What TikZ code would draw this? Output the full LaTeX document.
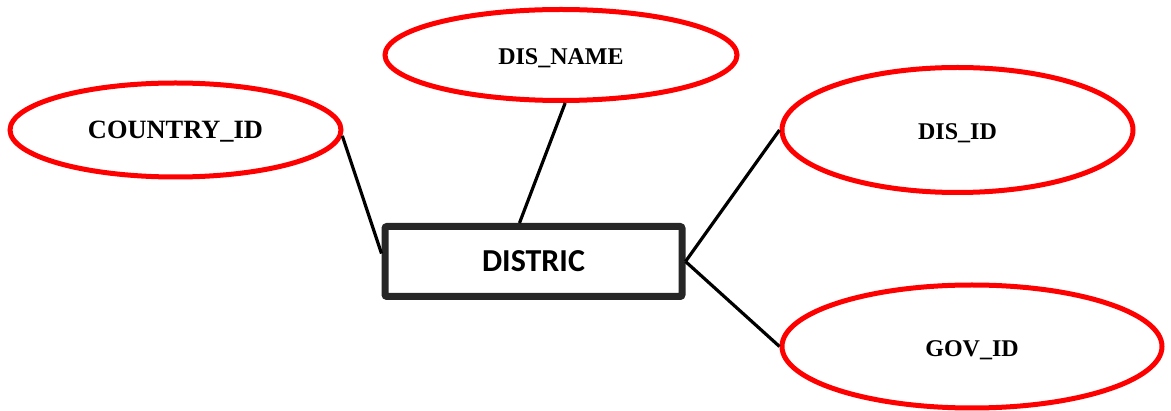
\documentclass[tikz,border=0pt]{standalone}
\usepackage{fontspec}
\usetikzlibrary{shapes.geometric}
\newfontfamily\attrfont{Liberation Serif}
\newfontfamily\entfont{Carlito}
\definecolor{attrred}{RGB}{255,0,0}
\definecolor{entgray}{RGB}{38,38,38}
\tikzset{
  attr/.style={ellipse, draw=attrred, line width=5pt, inner sep=0pt, fill=white,
    text height=20pt, text depth=0pt,
    font=\attrfont\bfseries\fontsize{24}{28}\selectfont},
  entity/.style={rectangle, draw=entgray, line width=7pt, rounded corners=2pt,
    minimum width=297pt, minimum height=70pt, inner sep=0pt,
    font=\entfont\bfseries\fontsize{32}{36}\selectfont},
  link/.style={draw=black, line width=3.2pt}
}
\begin{document}
\begin{tikzpicture}[x=1pt,y=-1pt]
\useasboundingbox (0,0) rectangle (1171,411);
\node[entity] (dist) at (533.5,261.5) {DISTRIC};
\node[attr, minimum width=331pt, minimum height=94pt, text height=18pt,
  font=\attrfont\bfseries\fontsize{26.4}{30}\selectfont] (cid) at (175.5,130) {COUNTRY\_ID};
\node[attr, minimum width=352pt, minimum height=91pt] (dn) at (561,55) {DIS\_NAME};
\node[attr, minimum width=351pt, minimum height=125pt] (did) at (957.5,130) {DIS\_ID};
\node[attr, minimum width=380pt, minimum height=123pt] (gid) at (972,346.5) {GOV\_ID};
\draw[link] (cid.-2.5) -- (dist.177.5);
\draw[link] (dn.-85) -- (dist.110.5);
\draw[link] (did.west) -- (dist.east);
\draw[link] (gid.west) -- (dist.east);
\end{tikzpicture}
\end{document}
